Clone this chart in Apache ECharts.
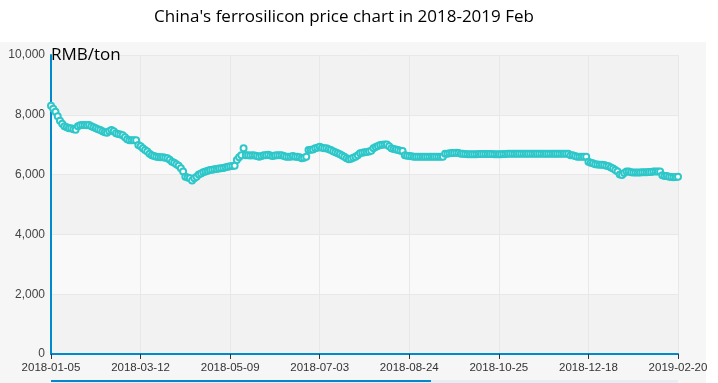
<!DOCTYPE html>
<html><head><meta charset="utf-8">
<script src="https://cdn.jsdelivr.net/npm/echarts@6/dist/echarts.min.js"></script>
<style>html,body{margin:0;padding:0;background:#fff}#c{width:718px;height:383px}</style>
</head><body><div id="c"></div>
<script>
var titleText = "China's ferrosilicon price chart in 2018-2019 Feb";
var unitName = "RMB/ton";
var tickDates = ["2018-01-05","2018-03-12","2018-05-09","2018-07-03","2018-08-24","2018-10-25","2018-12-18","2019-02-20"];
var yTicks = [0, 2000, 4000, 6000, 8000, 10000];
var prices = [
8300,8200,8100,7950,7800,7700,7620,7580,7550,7550,
7520,7500,7620,7650,7660,7660,7650,7660,7620,7580,
7550,7520,7490,7450,7420,7400,7450,7490,7450,7380,
7360,7340,7320,7250,7180,7150,7150,7150,7150,6990,
6950,6880,6820,6770,6700,6650,6620,6600,6590,6580,
6580,6560,6545,6500,6430,6400,6350,6300,6210,6100,
5930,5900,5875,5800,5880,5930,6000,6040,6080,6100,
6130,6150,6160,6175,6190,6200,6210,6220,6250,6265,
6280,6290,6300,6490,6580,6650,6880,6650,6650,6640,
6650,6640,6620,6600,6620,6650,6650,6660,6640,6620,
6640,6650,6650,6650,6620,6600,6600,6600,6620,6600,
6600,6580,6545,6560,6600,6820,6830,6840,6880,6900,
6930,6900,6880,6880,6850,6820,6780,6750,6710,6680,
6640,6600,6550,6510,6530,6560,6600,6650,6710,6730,
6750,6760,6770,6800,6880,6920,6960,6990,7000,7010,
7010,6950,6880,6860,6840,6820,6800,6790,6650,6630,
6620,6610,6600,6600,6600,6600,6600,6600,6600,6600,
6600,6600,6600,6600,6600,6600,6700,6700,6710,6720,
6720,6730,6720,6700,6700,6690,6680,6680,6680,6680,
6680,6690,6690,6690,6690,6690,6690,6690,6680,6680,
6680,6680,6690,6690,6700,6700,6700,6700,6700,6700,
6700,6700,6700,6700,6700,6700,6700,6700,6700,6700,
6700,6700,6700,6700,6700,6700,6700,6700,6700,6700,
6700,6700,6650,6650,6620,6600,6600,6600,6600,6600,
6430,6400,6380,6350,6340,6330,6330,6320,6300,6280,
6240,6200,6150,6100,6000,5990,6050,6100,6100,6080,
6070,6070,6070,6070,6080,6080,6080,6090,6090,6100,
6100,6100,6100,5980,5950,5950,5930,5920,5910,5920,
5930
];
// category dates: spread between the labelled dates
var perSeg = 40;
function fmt(d){var m=d.getUTCMonth()+1,dd=d.getUTCDate();return d.getUTCFullYear()+'-'+(m<10?'0':'')+m+'-'+(dd<10?'0':'')+dd;}
var categories = [];
for (var k = 0; k < tickDates.length - 1; k++) {
  var a = Date.parse(tickDates[k] + 'T00:00:00Z'), b = Date.parse(tickDates[k+1] + 'T00:00:00Z');
  for (var j = 0; j < perSeg; j++) {
    var t = a + Math.round(j * (b - a) / perSeg / 86400000) * 86400000;
    categories.push(j === 0 ? tickDates[k] : fmt(new Date(t)));
  }
}
categories.push(tickDates[tickDates.length - 1]);

var chart = echarts.init(document.getElementById('c'), null, {renderer: 'canvas'});
chart.setOption({
  backgroundColor: '#ffffff',
  animation: false,
  title: {
    text: titleText, left: 339, top: 4, textAlign: 'center',
    textStyle: {fontFamily: 'Open Sans', fontSize: 17, fontWeight: 'normal', color: '#000'}
  },
  graphic: [
    {type: 'rect', z: -10, shape: {x: 0, y: 42, width: 706, height: 341}, style: {fill: '#f6f6f6'}, silent: true},
    {type: 'rect', z: 10, shape: {x: 51, y: 380, width: 627, height: 3}, style: {fill: '#e6eef5'}, silent: true},
    {type: 'rect', z: 11, shape: {x: 51, y: 380, width: 380, height: 2}, style: {fill: '#008acd'}, silent: true}
  ],
  grid: {left: 51, right: 40, top: 55, bottom: 29, containLabel: false},
  xAxis: {
    type: 'category', data: categories, boundaryGap: false,
    axisLine: {lineStyle: {color: '#008acd', width: 2}},
    axisTick: {show: true, interval: perSeg - 1, length: 5, lineStyle: {color: '#333'}},
    axisLabel: {interval: perSeg - 1, color: '#333', fontSize: 11.5, fontFamily: 'Liberation Sans', margin: 8},
    splitLine: {show: true, interval: perSeg - 1, lineStyle: {color: '#e8e8e8'}}
  },
  yAxis: {
    type: 'value', min: yTicks[0], max: yTicks[yTicks.length-1], interval: yTicks[1]-yTicks[0],
    name: unitName, nameLocation: 'end', nameGap: 0,
    nameTextStyle: {align: 'left', verticalAlign: 'middle', fontSize: 17, color: '#000', fontFamily: 'Open Sans'},
    axisLine: {show: true, lineStyle: {color: '#008acd', width: 2}},
    axisTick: {show: false},
    axisLabel: {color: '#444', fontSize: 12, fontFamily: 'Liberation Sans', margin: 6,
      formatter: function(v){return v.toLocaleString('en-US');}},
    splitLine: {show: true, lineStyle: {color: '#e8e8e8'}},
    splitArea: {show: true, areaStyle: {color: ['#f2f2f2', '#f9f9f9']}}
  },
  series: [{
    type: 'line', data: prices,
    symbol: 'emptyCircle', symbolSize: 6, showAllSymbol: true,
    itemStyle: {color: '#2ec7c9', borderWidth: 2},
    lineStyle: {color: '#2ec7c9', width: 2}
  }]
});
</script></body></html>
